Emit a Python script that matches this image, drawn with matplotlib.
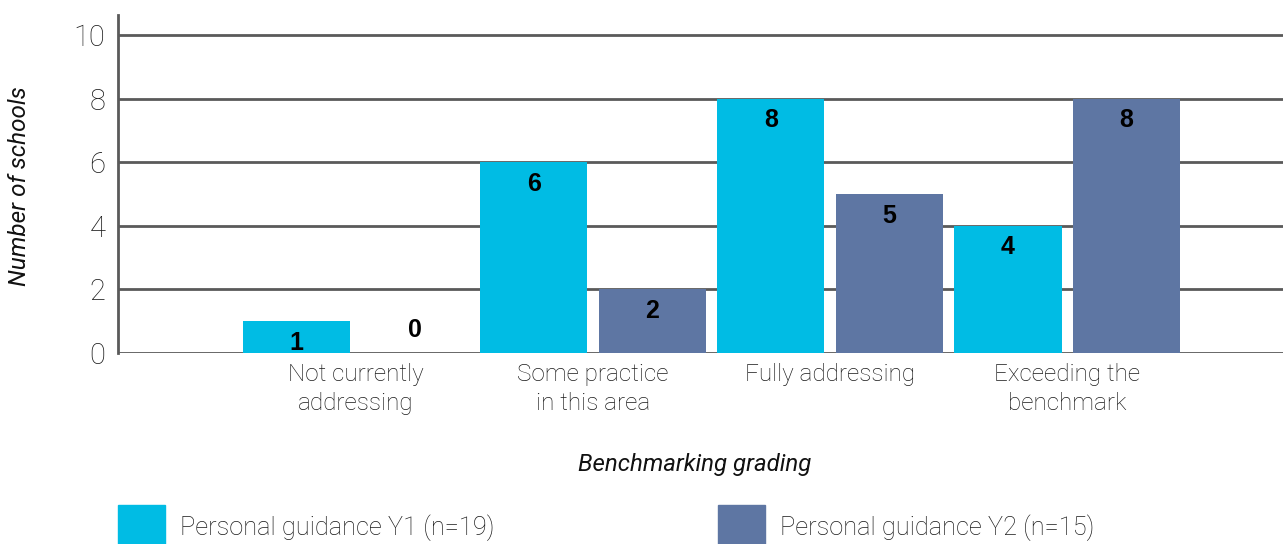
import matplotlib.pyplot as plt
from matplotlib.patches import Rectangle
import numpy as np

plt.rcParams['font.family'] = ['Roboto', 'DejaVu Sans']

categories = ["Not currently\naddressing", "Some practice\nin this area",
              "Fully addressing", "Exceeding the\nbenchmark"]
y1_values = [1, 6, 8, 4]
y2_values = [0, 2, 5, 8]
series_names = ["Personal guidance Y1 (n=19)", "Personal guidance Y2 (n=15)"]
yticks = [0, 2, 4, 6, 8, 10]

c_y1 = "#00BCE4"
c_y2 = "#5E76A3"
grid_c = "#5a5a5a"
txt_c = "#1a1a1a"

W, H = 1283, 544
fig = plt.figure(figsize=(W / 100, H / 100), dpi=100)
ax = fig.add_axes([118 / W, 1 - 353 / H, 1 - 118 / W, (353 - 15) / H])

x = np.arange(len(categories))
bw = 0.452
off = 0.25
ax.bar(x - off, y1_values, bw, color=c_y1, zorder=3)
ax.bar(x + off, y2_values, bw, color=c_y2, zorder=3)

for xs, vals in [(x - off, y1_values), (x + off, y2_values)]:
    for xi, v in zip(xs, vals):
        ty = v - 0.68 if v > 0 else 0.72
        ax.text(xi, ty, str(v), ha='center', va='center', fontsize=18,
                fontweight='bold', color='black',
                family=['Liberation Sans', 'DejaVu Sans'], zorder=4)

ax.set_xlim(-1.004, 3.91)
ax.set_ylim(0, 10.63)
ax.set_yticks(yticks)
ax.set_yticklabels([str(t) for t in yticks], fontsize=21, fontweight='light', color=txt_c)
ax.set_xticks(x)
ax.set_xticklabels(categories, fontsize=17.5, fontweight='light', color=txt_c, linespacing=1.35)
ax.tick_params(axis='both', length=0)
ax.tick_params(axis='y', pad=9)
ax.tick_params(axis='x', pad=7)

for t in yticks:
    ax.axhline(t, color=grid_c, lw=2, zorder=1)

for s in ['top', 'right', 'bottom']:
    ax.spines[s].set_visible(False)
ax.spines['left'].set_color(grid_c)
ax.spines['left'].set_linewidth(2)

fig.text(20 / W, 1 - 186 / H, "Number of schools", rotation=90, style='italic',
         fontsize=17.5, ha='center', va='center', color='#111111')
fig.text(695 / W, 1 - 465 / H, "Benchmarking grading", style='italic',
         fontsize=17.3, ha='center', va='center', color='#111111')

# legend drawn by hand, boxes run off the bottom edge
for bx, col, name in [(118, c_y1, series_names[0]), (718, c_y2, series_names[1])]:
    fig.patches.append(Rectangle((bx / W, 0), 47 / W, (544 - 505) / H,
                                 transform=fig.transFigure, color=col))
    fig.text((bx + 62) / W, 1 - 528 / H, name, fontsize=18.3, fontweight='light',
             ha='left', va='center', color=txt_c)

fig.savefig("out.png", dpi=100)
